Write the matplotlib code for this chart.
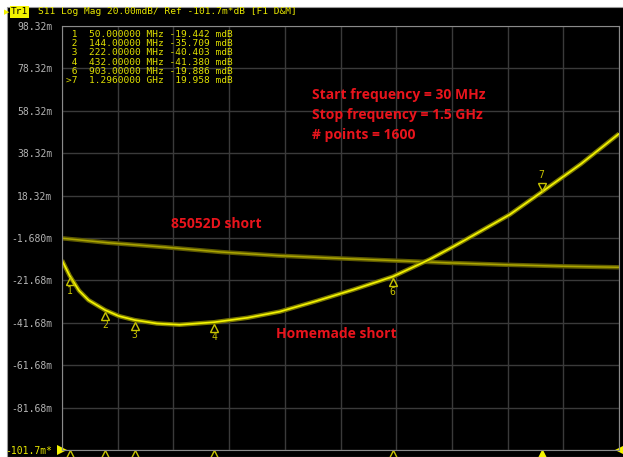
import numpy as np
import matplotlib.pyplot as plt
from matplotlib.patches import Rectangle
import matplotlib.transforms as mtransforms

# trace data (freq in MHz, S11 in mdB)
ref_freq = [30, 150, 300, 450, 600, 750, 900, 1050, 1200, 1350, 1500]
ref_s11 = [-1.8, -3.9, -6.0, -8.3, -10.0, -11.2, -12.3, -13.4, -14.3, -15.0, -15.5]

home_freq = [30, 50, 75, 100, 144, 180, 222, 280, 340, 432, 520, 605, 700,
             800, 903, 1000, 1062, 1100, 1212, 1296, 1400, 1500]
home_s11 = [-12.2, -19.4, -26.5, -31.0, -35.7, -38.5, -40.4, -42.0, -42.6, -41.4,
            -39.3, -36.4, -31.5, -26.0, -19.9, -11.8, -5.8, -2.0, 9.4, 20.0, 33.3, 47.5]

# markers
mk_num = ['1', '2', '3', '4', '6', '7']
mk_freq = [50, 144, 222, 432, 903, 1296]
mk_val = [-19.442, -35.709, -40.403, -41.380, -19.886, 19.958]
mk_rows = [' 1  50.000000 MHz -19.442 mdB',
           ' 2  144.00000 MHz -35.709 mdB',
           ' 3  222.00000 MHz -40.403 mdB',
           ' 4  432.00000 MHz -41.380 mdB',
           ' 6  903.00000 MHz -19.886 mdB',
           '>7  1.2960000 GHz  19.958 mdB']

ytick_vals = [98.32 - 20 * k for k in range(11)]
ytick_labels = ['98.32m', '78.32m', '58.32m', '38.32m', '18.32m', '-1.680m',
                '-21.68m', '-41.68m', '-61.68m', '-81.68m', '-101.7m*']

W, H = 623, 457
fig = plt.figure(figsize=(W / 100, H / 100), dpi=100, facecolor='white')
fig.patches.append(Rectangle((7 / W, 0), 1, 1 - 7 / H, transform=fig.transFigure,
                             facecolor='black', edgecolor='#9a9a9a', lw=0.8, zorder=-5))

ax = fig.add_axes([62 / W, 1 - 450 / H, 557 / W, 424 / H])
ax.set_facecolor('black')
ax.set_xlim(30, 1500)
ax.set_ylim(-101.68, 98.32)
ax.set_xticks(np.linspace(30, 1500, 11))
ax.set_xticklabels([])
ax.set_yticks(ytick_vals)
ax.set_yticklabels(ytick_labels, family='DejaVu Sans Mono', fontsize=7)
for i, t in enumerate(ax.get_yticklabels()):
    t.set_color('#e8e800' if i == 10 else '#b4b4b4')
ax.tick_params(length=0, pad=7)
ax.grid(True, color='#3a3a3a', lw=1)
for s in ax.spines.values():
    s.set_color('#8a8a8a')

# traces (wider darker stroke behind to mimic the noisy band)
ax.plot(ref_freq, ref_s11, color='#5e5a00', lw=3.2, solid_capstyle='butt')
ax.plot(ref_freq, ref_s11, color='#aaa400', lw=1.1)
ax.plot(home_freq, home_s11, color='#7a7800', lw=3.2, solid_capstyle='butt')
ax.plot(home_freq, home_s11, color='#f4f400', lw=1.2)

# marker symbols on the trace
for n, f, v in zip(mk_num, mk_freq, mk_val):
    if n == '7':
        tr = mtransforms.offset_copy(ax.transData, fig=fig, x=0, y=4, units='points')
        ax.plot(f, v, marker='v', ms=6, mfc='none', mec='#c8c400', mew=1, transform=tr)
        ax.annotate(n, (f, v), xytext=(0, 12), textcoords='offset points', ha='center',
                    va='center', color='#c8c400', fontsize=7, family='DejaVu Sans Mono')
    else:
        tr = mtransforms.offset_copy(ax.transData, fig=fig, x=0, y=-4, units='points')
        ax.plot(f, v, marker='^', ms=6, mfc='none', mec='#c8c400', mew=1, transform=tr)
        ax.annotate(n, (f, v), xytext=(0, -11), textcoords='offset points', ha='center',
                    va='center', color='#c8c400', fontsize=7, family='DejaVu Sans Mono')

# marker triangles under the axis
btr = ax.get_xaxis_transform()
for n, f in zip(mk_num, mk_freq):
    if n == '7':
        ax.plot(f, -0.012, marker='^', ms=7, color='#f4f400', transform=btr, clip_on=False)
    else:
        ax.plot(f, -0.012, marker='^', ms=7, mfc='black', mec='#c8c400', mew=1,
                transform=btr, clip_on=False)
ax.plot(0.0, 0.0, marker='>', ms=7, color='#f4f400', transform=ax.transAxes,
        clip_on=False, markeredgewidth=0)
ax.plot(1.0, 0.0, marker='<', ms=6, color='#f4f400', transform=ax.transAxes,
        clip_on=False, markeredgewidth=0)

# marker table
for i, row in enumerate(mk_rows):
    fig.text(66 / W, 1 - (34.5 + 9.2 * i) / H, row, color='#e0e000', fontsize=6.8,
             family='DejaVu Sans Mono', va='center', ha='left')

# header
fig.text(4 / W, 1 - 12 / H, '\u25b6', color='#f4f400', fontsize=5, va='center')
fig.text(11 / W, 1 - 12 / H, 'Tr1', color='black', fontsize=6.8, family='DejaVu Sans Mono',
         va='center', bbox=dict(boxstyle='square,pad=0.12', fc='#f4f400', ec='none'))
fig.text(38 / W, 1 - 12 / H, 'S11 Log Mag 20.00mdB/ Ref -101.7m*dB [F1 D&M]', color='#e8e800',
         fontsize=6.8, family='DejaVu Sans Mono', va='center')

# red annotations
red = '#e8141c'
kw = dict(color=red, fontsize=10, fontweight='bold', family='Open Sans', va='center')
fig.text(312 / W, 1 - 95 / H, 'Start frequency = 30 MHz', **kw)
fig.text(312 / W, 1 - 115 / H, 'Stop frequency = 1.5 GHz', **kw)
fig.text(312 / W, 1 - 135 / H, '# points = 1600', **kw)
fig.text(171 / W, 1 - 224 / H, '85052D short', **kw)
fig.text(276 / W, 1 - 334 / H, 'Homemade short', **kw)

fig.savefig('out.png', dpi=100, facecolor=fig.get_facecolor())
